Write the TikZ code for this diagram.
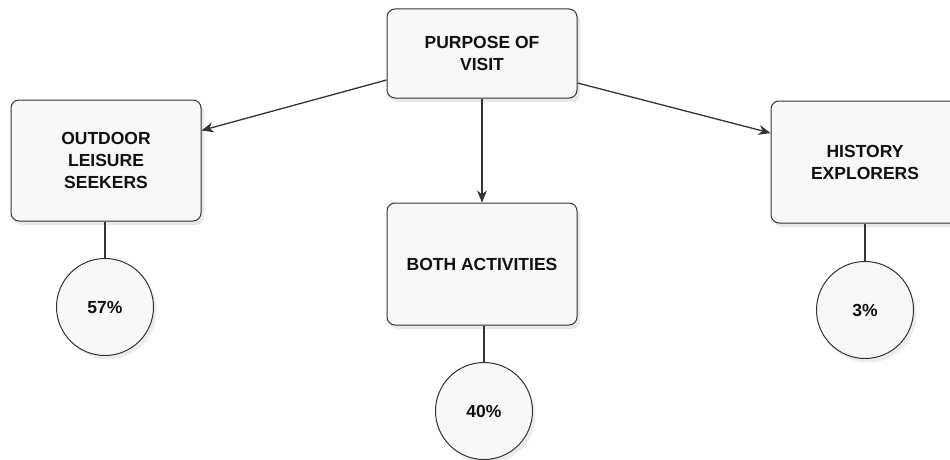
\documentclass[tikz,border=0pt]{standalone}
\usepackage{fontspec}
\setmainfont{Liberation Sans}
\usetikzlibrary{arrows.meta,shadows,calc}
\definecolor{boxline}{HTML}{333333}
\definecolor{boxfill}{HTML}{F8F8F8}
\definecolor{txt}{HTML}{111111}
\begin{document}
\begin{tikzpicture}[x=1pt,y=-1pt,
  box/.style={draw=boxline, line width=1pt, rounded corners=8pt, fill=boxfill,
    minimum width=190pt, align=center, text=txt,
    font=\bfseries\fontsize{17.5}{22}\selectfont,
    drop shadow={shadow xshift=3pt, shadow yshift=-4pt, opacity=0.18, fill=gray}},
  pct/.style={draw=boxline, line width=1pt, circle, fill=boxfill, minimum size=97pt,
    inner sep=0pt, text=txt, font=\bfseries\fontsize{17.5}{21}\selectfont,
    drop shadow={shadow xshift=3pt, shadow yshift=-4pt, opacity=0.15, fill=gray}},
  arr/.style={draw=boxline, line width=1.3pt, -{Stealth[length=12pt,width=10pt]}},
  link/.style={draw=boxline, line width=1.3pt}]
\useasboundingbox (0,0) rectangle (950,460);
\node[box, minimum height=89pt] (purpose) at (482,53.5) {PURPOSE OF\\VISIT};
\node[box, minimum height=121pt] (outdoor) at (106,160.5) {OUTDOOR\\LEISURE\\SEEKERS};
\node[box, minimum height=122pt, minimum width=188pt] (history) at (865,162) {HISTORY\\EXPLORERS};
\node[box, minimum height=122pt] (both) at (482,264) {BOTH ACTIVITIES};
\node[pct] (p57) at (105,307) {57\%};
\node[pct] (p40) at (484,411) {40\%};
\node[pct] (p3) at (865,310) {3\%};
\draw[arr] ($(purpose.west)+(0,26.5)$) -- ($(outdoor.east)+(0,-30)$);
\draw[arr] ($(purpose.east)+(0,29.5)$) -- ($(history.west)+(0,-29)$);
\draw[arr] (purpose.south) -- (both.north);
\draw[link] (outdoor.south -| p57.north) -- (p57.north);
\draw[link] (both.south -| p40.north) -- (p40.north);
\draw[link] (history.south) -- (p3.north);
\end{tikzpicture}
\end{document}
